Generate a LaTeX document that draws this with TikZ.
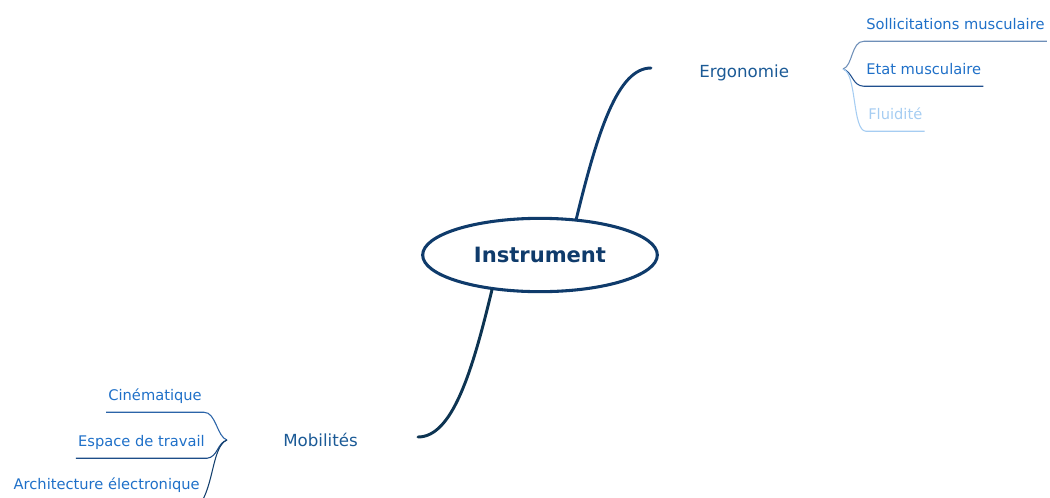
\documentclass[tikz,border=0pt]{standalone}
\usepackage{fontspec}
\setmainfont{DejaVu Sans}
\usetikzlibrary{shapes,positioning}

\definecolor{navy}{HTML}{0F3B6B}
\definecolor{deepnavy}{HTML}{0D3452}
\definecolor{maintext}{HTML}{1B5A96}
\definecolor{subtext}{HTML}{1F70C8}
\definecolor{sollicline}{HTML}{6E8FB8}
\definecolor{etatline}{HTML}{204F8E}
\definecolor{paleblue}{HTML}{A6CDF2}
\definecolor{cinemline}{HTML}{2B64A8}
\definecolor{espaceline}{HTML}{1D4D88}
\definecolor{archiline}{HTML}{14406E}

\begin{document}
\begin{tikzpicture}[x=0.75pt, y=-0.75pt]
    % Define styles
    \tikzstyle{centre} = [ellipse, draw=navy, line width=2.3pt, minimum width=176pt, minimum height=55pt, inner sep=0pt, text=navy, font=\fontsize{15.8}{18}\selectfont\bfseries]
    \tikzstyle{topic} = [inner sep=0pt, text=maintext, font=\fontsize{12.5}{15}\selectfont]
    \tikzstyle{leaf} = [inner xsep=1.5pt, inner ysep=9pt, text depth=0pt, text=subtext, font=\fontsize{11}{13}\selectfont]
    \tikzstyle{branch} = [line width=2.2pt, line cap=round]
    \tikzstyle{twig} = [line width=0.8pt]

    \useasboundingbox (0,0) rectangle (1050,497);

    % Nodes
    \node [centre] (instrument) at (540,255) {Instrument};
    \node [topic, anchor=base west] (ergo) at (699,77) {Ergonomie};
    \node [topic, anchor=base west] (mobil) at (283,446) {Mobilités};

    \node [leaf, anchor=base west] (sollic) at (864,29) {Sollicitations musculaire};
    \node [leaf, anchor=base west] (etat) at (864,74) {Etat musculaire};
    \node [leaf, anchor=base west, text=paleblue] (fluid) at (866,119) {Fluidité};

    \node [leaf, anchor=base east] (cinem) at (204,400) {Cinématique};
    \node [leaf, anchor=base east] (espace) at (207,446) {Espace de travail};
    \node [leaf, anchor=base east] (archi) at (202,489) {Architecture électronique};

    \coordinate (ergoEnd) at (651,68);
    \coordinate (mobilEnd) at (418,437);
    \coordinate (ergoFork) at (843,69);
    \coordinate (mobilFork) at (227,440);

    % Branches
    \draw [branch, navy] (instrument.45) .. controls (598,130) and (618,68) .. (ergoEnd);
    \draw [branch, deepnavy] (instrument.216) .. controls (472,373) and (452,437) .. (mobilEnd);

    % Right fork
    \draw [twig, sollicline] (ergoFork) .. controls (853,66) and (851,41) .. (sollic.south west) -- (sollic.south east);
    \draw [twig, etatline] (ergoFork) .. controls (853,72) and (852,86) .. (etat.south west) -- (etat.south east);
    \draw [twig, paleblue] (ergoFork) .. controls (857,73) and (852,131) .. (fluid.south west) -- (fluid.south east);

    % Left fork
    \draw [twig, cinemline] (mobilFork) .. controls (217,437) and (216,412) .. (cinem.south east) -- (cinem.south west);
    \draw [twig, espaceline] (mobilFork) .. controls (217,443) and (218,457) .. (espace.south east) -- (espace.south west);
    \draw [twig, archiline] (mobilFork) .. controls (213,446) and (214,480) .. (archi.south east) -- (archi.south west);
\end{tikzpicture}
\end{document}
